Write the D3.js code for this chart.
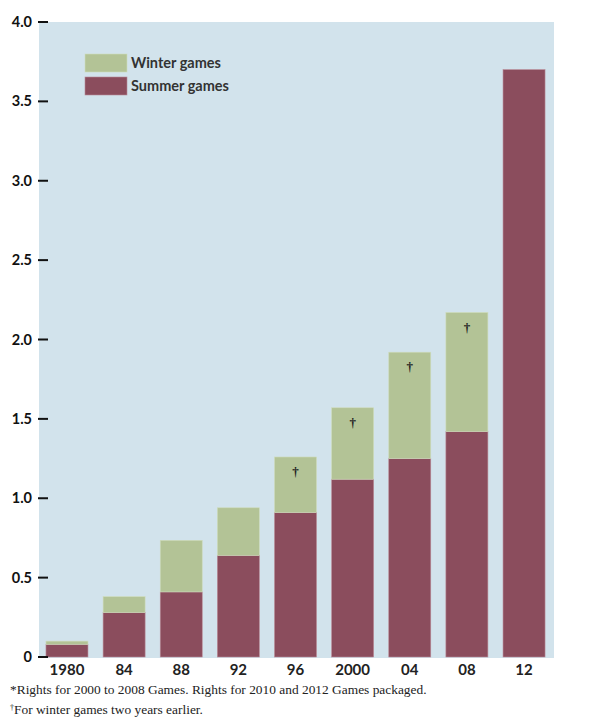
<!DOCTYPE html>
<html>
<head>
<meta charset="utf-8">
<script src="https://cdn.jsdelivr.net/npm/d3@7"></script>
<style>
  body { margin: 0; background: #fff; }
  svg { display: block; }
</style>
</head>
<body>
<div id="chart"></div>
<script>
const years = ["1980", "84", "88", "92", "96", "2000", "04", "08", "12"];
const summerGames = [0.08, 0.28, 0.41, 0.64, 0.91, 1.12, 1.25, 1.42, 3.70];
const winterGames = [0.02, 0.10, 0.325, 0.30, 0.35, 0.45, 0.67, 0.75, 0];
const winterEarlier = [false, false, false, false, true, true, true, true, false];
const yTicks = [0, 0.5, 1.0, 1.5, 2.0, 2.5, 3.0, 3.5, 4.0];

(function () {
  const width = 590, height = 720;
  const left = 39, right = 554, top = 22, bottom = 657;

  const svg = d3.select("#chart")
    .append("svg")
    .attr("width", width)
    .attr("height", height);

  const x = d3.scaleBand()
    .domain(years)
    .range([left, 552])
    .paddingInner(0.265)
    .paddingOuter(0.122);

  const y = d3.scaleLinear()
    .domain([0, 4])
    .range([bottom, top]);

  // panel
  svg.append("rect")
    .attr("x", left)
    .attr("y", top)
    .attr("width", right - left)
    .attr("height", bottom - top + 1)
    .attr("fill", "#d2e3ec");

  const rows = years.map((yr, i) => ({
    year: yr, summer: summerGames[i], winter: winterGames[i], mark: winterEarlier[i]
  }));

  // summer part
  svg.selectAll("rect.summer")
    .data(rows)
    .join("rect")
      .attr("class", "summer")
      .attr("x", d => x(d.year))
      .attr("width", x.bandwidth())
      .attr("y", d => y(d.summer))
      .attr("height", d => y(0) - y(d.summer))
      .attr("fill", "#8b4d5d")
      .attr("stroke", "#b98a96")
      .attr("stroke-width", 0.6);

  // winter part on top
  svg.selectAll("rect.winter")
    .data(rows.filter(d => d.winter > 0))
    .join("rect")
      .attr("class", "winter")
      .attr("x", d => x(d.year))
      .attr("width", x.bandwidth())
      .attr("y", d => y(d.summer + d.winter))
      .attr("height", d => y(d.summer) - y(d.summer + d.winter))
      .attr("fill", "#b3c396")
      .attr("stroke", "#cfdcbc")
      .attr("stroke-width", 0.6);

  // dagger marks
  svg.selectAll("text.dagger")
    .data(rows.filter(d => d.mark))
    .join("text")
      .attr("class", "dagger")
      .attr("x", d => x(d.year) + x.bandwidth() / 2)
      .attr("y", d => y(d.summer + d.winter) + 19)
      .attr("text-anchor", "middle")
      .style("font-family", "'Liberation Serif', serif")
      .style("font-size", "13px")
      .style("font-weight", "bold")
      .style("fill", "#222")
      .text("\u2020");

  // y axis
  const yAxis = svg.append("g");
  yAxis.selectAll("line")
    .data(yTicks)
    .join("line")
      .attr("x1", 38)
      .attr("x2", 48)
      .attr("y1", d => y(d))
      .attr("y2", d => y(d))
      .attr("stroke", "#111")
      .attr("stroke-width", 2);
  yAxis.selectAll("text")
    .data(yTicks)
    .join("text")
      .attr("x", 32)
      .attr("y", d => y(d))
      .attr("dy", "0.35em")
      .attr("text-anchor", "end")
      .style("font-family", "Lato, sans-serif")
      .style("font-size", "14.5px")
      .style("font-weight", "bold")
      .style("fill", "#111")
      .text(d => d === 0 ? "0" : d.toFixed(1));

  // x labels
  svg.append("g").selectAll("text")
    .data(years)
    .join("text")
      .attr("x", d => x(d) + x.bandwidth() / 2)
      .attr("y", 675)
      .attr("text-anchor", "middle")
      .style("font-family", "Lato, sans-serif")
      .style("font-size", "15px")
      .style("font-weight", "bold")
      .style("fill", "#222")
      .text(d => d);

  // legend
  const legend = [
    { label: "Winter games", color: "#b3c396", stroke: "#cfdcbc" },
    { label: "Summer games", color: "#8b4d5d", stroke: "#b98a96" }
  ];
  const lg = svg.append("g").attr("transform", "translate(85,54)");
  lg.selectAll("rect")
    .data(legend)
    .join("rect")
      .attr("x", 0)
      .attr("y", (d, i) => i * 23)
      .attr("width", 42)
      .attr("height", 18)
      .attr("fill", d => d.color)
      .attr("stroke", d => d.stroke)
      .attr("stroke-width", 0.6);
  lg.selectAll("text")
    .data(legend)
    .join("text")
      .attr("x", 46)
      .attr("y", (d, i) => i * 23 + 14)
      .style("font-family", "Lato, sans-serif")
      .style("font-size", "14.5px")
      .style("font-weight", "bold")
      .style("fill", "#333")
      .text(d => d.label);

  // footnotes
  const notes = svg.append("g")
    .style("font-family", "'Liberation Serif', serif")
    .style("font-size", "13.4px")
    .style("fill", "#222");
  notes.append("text")
    .attr("x", 10)
    .attr("y", 694)
    .text("*Rights for 2000 to 2008 Games. Rights for 2010 and 2012 Games packaged.");
  const n2 = notes.append("text")
    .attr("x", 10)
    .attr("y", 714);
  n2.append("tspan")
    .attr("dy", -4)
    .style("font-size", "8px")
    .text("\u2020");
  n2.append("tspan")
    .attr("dy", 4)
    .text("For winter games two years earlier.");
})();
</script>
</body>
</html>
